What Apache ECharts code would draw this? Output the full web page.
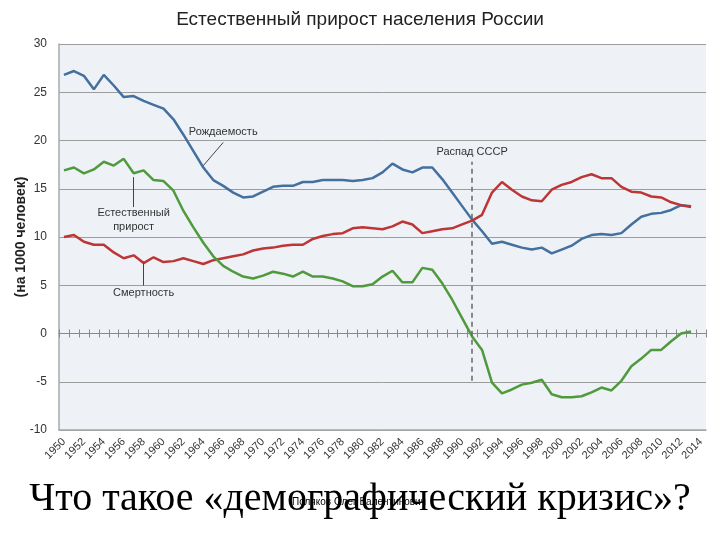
<!DOCTYPE html>
<html>
<head>
<meta charset="utf-8">
<script src="https://cdn.jsdelivr.net/npm/echarts@6/dist/echarts.min.js"></script>
<style>
  html, body { margin: 0; padding: 0; background: #fff; }
  #chartDom { width: 720px; height: 540px; }
</style>
</head>
<body>
<div id="chartDom"></div>
<script>
// годы (подписи оси X)
const years = [
  '1950','1951','1952','1953','1954','1955','1956','1957','1958','1959',
  '1960','1961','1962','1963','1964','1965','1966','1967','1968','1969',
  '1970','1971','1972','1973','1974','1975','1976','1977','1978','1979',
  '1980','1981','1982','1983','1984','1985','1986','1987','1988','1989',
  '1990','1991','1992','1993','1994','1995','1996','1997','1998','1999',
  '2000','2001','2002','2003','2004','2005','2006','2007','2008','2009',
  '2010','2011','2012','2013','2014'
];

// рождаемость, на 1000 человек
const birthRate = [
  26.8, 27.2, 26.7, 25.3, 26.8, 25.7, 24.5, 24.6, 24.1, 23.7,
  23.3, 22.2, 20.6, 18.9, 17.2, 15.9, 15.3, 14.6, 14.1, 14.2,
  14.7, 15.2, 15.3, 15.3, 15.7, 15.7, 15.9, 15.9, 15.9, 15.8,
  15.9, 16.1, 16.7, 17.6, 17.0, 16.7, 17.2, 17.2, 16.0, 14.6,
  13.2, 11.8, 10.6, 9.3, 9.5, 9.2, 8.9, 8.7, 8.9, 8.3,
  8.7, 9.1, 9.8, 10.2, 10.3, 10.2, 10.4, 11.3, 12.1, 12.4,
  12.5, 12.8, 13.3, 13.2
];

// смертность
const deathRate = [
  10.0, 10.2, 9.5, 9.2, 9.2, 8.4, 7.8, 8.1, 7.3, 7.9,
  7.4, 7.5, 7.8, 7.5, 7.2, 7.6, 7.8, 8.0, 8.2, 8.6,
  8.8, 8.9, 9.1, 9.2, 9.2, 9.8, 10.1, 10.3, 10.4, 10.9,
  11.0, 10.9, 10.8, 11.1, 11.6, 11.3, 10.4, 10.6, 10.8, 10.9,
  11.3, 11.7, 12.3, 14.6, 15.7, 14.9, 14.2, 13.8, 13.7, 14.9,
  15.4, 15.7, 16.2, 16.5, 16.1, 16.1, 15.2, 14.7, 14.6, 14.2,
  14.1, 13.6, 13.3, 13.1
];

// естественный прирост
const naturalGrowth = [
  16.9, 17.2, 16.6, 17.0, 17.8, 17.4, 18.1, 16.6, 16.9, 15.9,
  15.8, 14.8, 12.7, 11.0, 9.4, 8.0, 7.0, 6.4, 5.9, 5.7,
  6.0, 6.4, 6.2, 5.9, 6.4, 5.9, 5.9, 5.7, 5.4, 4.9,
  4.9, 5.1, 5.9, 6.5, 5.3, 5.3, 6.8, 6.6, 5.2, 3.5,
  1.6, -0.3, -1.7, -5.1, -6.2, -5.8, -5.3, -5.1, -4.8, -6.3,
  -6.6, -6.6, -6.5, -6.1, -5.6, -5.9, -4.9, -3.4, -2.6, -1.7,
  -1.7, -0.8, 0.0, 0.2
];

const chart = echarts.init(document.getElementById('chartDom'));

const leaderStyle = { color: '#444', width: 1, type: 'solid' };

const option = {
  backgroundColor: '#fff',
  animation: false,
  textStyle: { fontFamily: 'Liberation Sans, Arial, sans-serif' },
  title: {
    text: 'Естественный прирост населения России',
    left: 'center',
    top: 5,
    textStyle: { fontSize: 19, fontWeight: 'normal', color: '#222' }
  },
  grid: {
    left: 59, right: 14, top: 44, bottom: 110,
    outerBoundsMode: 'none',
    show: true, backgroundColor: '#eef1f6', borderWidth: 0
  },
  xAxis: [
    {
      type: 'category', data: years, boundaryGap: true,
      axisLine: { onZero: false, lineStyle: { color: '#a8a8a8', width: 1.5 } },
      axisTick: { show: false },
      axisLabel: { interval: 1, rotate: 45, fontSize: 11, color: '#333', margin: 10 }
    },
    {
      type: 'category', data: years, position: 'bottom',
      axisLine: { onZero: true, onZeroAxisIndex: 0, lineStyle: { color: '#8a8a8a', width: 1 } },
      axisTick: { show: true, interval: 0, length: 4, lineStyle: { color: '#8a8a8a' } },
      axisLabel: { show: false }
    },
    {
      type: 'category', data: years, position: 'bottom',
      axisLine: { onZero: true, onZeroAxisIndex: 0, lineStyle: { color: '#8a8a8a', width: 1 } },
      axisTick: { show: true, inside: true, interval: 0, length: 4, lineStyle: { color: '#8a8a8a' } },
      axisLabel: { show: false }
    }
  ],
  yAxis: {
    type: 'value', min: -10, max: 30, interval: 5,
    name: '(на 1000 человек)', nameLocation: 'middle', nameGap: 31,
    nameMoveOverlap: false,
    nameTextStyle: { fontSize: 14, fontWeight: 'bold', color: '#222' },
    axisLine: { show: true, lineStyle: { color: '#a8a8a8', width: 1.5 } },
    axisTick: { show: false },
    axisLabel: { fontSize: 12, color: '#333', margin: 12 },
    splitLine: { lineStyle: { color: '#9c9c9c', width: 1 } }
  },
  series: [
    {
      name: 'Рождаемость', type: 'line', data: birthRate,
      symbol: 'none', lineStyle: { color: '#43709f', width: 2.5 },
      markLine: {
        silent: true, symbol: ['none', 'none'], label: { show: false },
        data: [
          [{ coord: [13.7, 17.4], lineStyle: leaderStyle }, { coord: [15.55, 19.8] }],
          [{ coord: [7.3, 16.2], lineStyle: leaderStyle }, { coord: [7.3, 13.1] }],
          [{ coord: [7.6, 7.25], lineStyle: leaderStyle }, { coord: [7.6, 4.97] }],
          [{ coord: [40.6, -4.9], lineStyle: { color: '#666', width: 1.5, type: [5, 4] } }, { coord: [40.6, 17.8] }]
        ]
      },
      markPoint: {
        silent: true, symbol: 'circle', symbolSize: 0,
        label: {
          show: true, position: 'inside', fontSize: 11, color: '#333',
          lineHeight: 14, formatter: p => p.name
        },
        data: [
          { name: 'Рождаемость', coord: [16.45, 20.93] },
          { name: 'Естественный\nприрост', coord: [7.22, 11.8] },
          { name: 'Смертность', coord: [7.5, 4.25] },
          { name: 'Распад СССР', coord: [40.7, 18.86] }
        ]
      }
    },
    {
      name: 'Смертность', type: 'line', data: deathRate,
      symbol: 'none', lineStyle: { color: '#bd3535', width: 2.5 }
    },
    {
      name: 'Естественный прирост', type: 'line', data: naturalGrowth,
      symbol: 'none', lineStyle: { color: '#4f9a3c', width: 2.5 }
    }
  ],
  graphic: [
    {
      type: 'text', left: 'center', top: 479, z: 10,
      style: {
        text: 'Что такое «демографический кризис»?',
        font: '40px "Liberation Serif", "Times New Roman", serif',
        fill: '#000'
      }
    },
    {
      type: 'text', left: 292, top: 497, z: 20,
      style: {
        text: 'Поляков Олег Валентинович',
        font: '10px "Liberation Sans", Arial, sans-serif',
        fill: '#000'
      }
    }
  ]
};

chart.setOption(option);
</script>
</body>
</html>
